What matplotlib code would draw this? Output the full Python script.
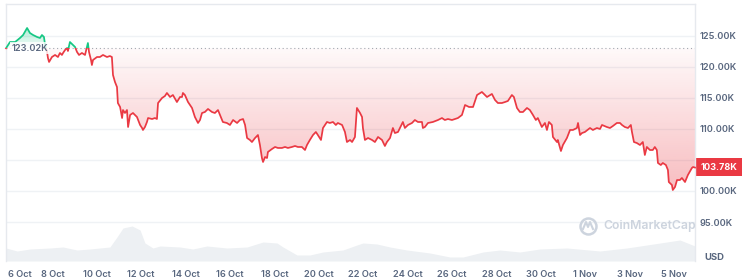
import matplotlib
matplotlib.use("Agg")
import matplotlib.pyplot as plt
import numpy as np
from matplotlib.patches import Rectangle, PathPatch
from matplotlib.path import Path
from matplotlib.lines import Line2D

plt.rcParams['font.family'] = ['Inter', 'DejaVu Sans']

# ---------------- data ----------------
# days after 6 Oct 00:00
days = [
    -0.09, 0.09, 0.32, 0.54, 0.68, 0.86, 0.99, 1.13, 1.31, 1.44,
    1.53, 1.62, 1.67, 1.76, 1.80, 1.85, 1.98, 2.12, 2.25, 2.34,
    2.43, 2.48, 2.57, 2.66, 2.70, 2.79, 2.93, 3.02, 3.11, 3.20,
    3.33, 3.47, 3.56, 3.60, 3.65, 3.74, 3.78, 3.83, 4.01, 4.14,
    4.28, 4.46, 4.59, 4.68, 4.73, 4.82, 4.91, 4.95, 5.05, 5.14,
    5.18, 5.27, 5.36, 5.41, 5.50, 5.63, 5.81, 5.95, 6.04, 6.08,
    6.17, 6.26, 6.31, 6.49, 6.62, 6.71, 6.76, 6.94, 7.07, 7.16,
    7.30, 7.43, 7.61, 7.75, 7.84, 7.88, 7.97, 8.11, 8.29, 8.42,
    8.56, 8.65, 8.74, 8.87, 9.01, 9.19, 9.32, 9.46, 9.55, 9.68,
    9.86, 10.00, 10.14, 10.32, 10.45, 10.59, 10.68, 10.77, 10.90, 10.99,
    11.13, 11.26, 11.35, 11.44, 11.49, 11.58, 11.67, 11.71, 11.89, 12.03,
    12.16, 12.34, 12.48, 12.61, 12.79, 12.93, 13.06, 13.24, 13.38, 13.47,
    13.60, 13.74, 13.87, 13.96, 14.10, 14.19, 14.37, 14.50, 14.64, 14.77,
    14.86, 15.05, 15.18, 15.27, 15.41, 15.50, 15.63, 15.72, 15.86, 15.95,
    15.99, 16.08, 16.22, 16.40, 16.53, 16.67, 16.85, 16.98, 17.07, 17.21,
    17.34, 17.43, 17.57, 17.79, 17.88, 18.02, 18.20, 18.33, 18.47, 18.65,
    18.69, 18.78, 18.92, 19.14, 19.37, 19.55, 19.68, 19.82, 20.00, 20.14,
    20.27, 20.45, 20.59, 20.77, 20.95, 21.13, 21.35, 21.58, 21.80, 21.94,
    22.07, 22.25, 22.39, 22.52, 22.70, 22.79, 22.93, 23.06, 23.20, 23.38,
    23.51, 23.65, 23.78, 23.87, 24.05, 24.19, 24.28, 24.37, 24.50, 24.55,
    24.73, 24.77, 24.91, 25.00, 25.18, 25.32, 25.45, 25.63, 25.68, 25.77,
    25.86, 25.99, 26.22, 26.35, 26.53, 26.67, 26.76, 26.98, 27.12, 27.25,
    27.43, 27.57, 27.66, 27.79, 27.93, 28.06, 28.11, 28.20, 28.33, 28.47,
    28.60, 28.69, 28.78, 28.92, 29.05, 29.14, 29.23, 29.28, 29.41, 29.50,
    29.64, 29.73, 29.77, 29.91, 29.95, 30.05, 30.14, 30.27, 30.36, 30.50,
    30.63, 30.81, 30.86, 30.95,
]
# price in thousands USD
price = [
    123.02, 124.03, 124.03, 124.68, 125.16, 126.29, 125.48, 125.16, 124.84, 124.68,
    125.16, 124.84, 123.55, 122.42, 121.45, 120.81, 121.61, 121.94, 121.61, 122.26,
    121.94, 122.26, 122.74, 123.06, 122.58, 124.03, 123.55, 123.23, 122.42, 121.94,
    122.26, 121.94, 123.23, 123.87, 122.42, 121.13, 120.32, 121.13, 121.61, 121.61,
    121.94, 121.61, 121.77, 121.61, 118.71, 117.58, 116.77, 114.19, 113.55, 111.77,
    113.06, 112.58, 113.06, 110.32, 112.26, 112.58, 111.94, 110.65, 110.16, 109.84,
    110.32, 111.13, 111.77, 111.61, 111.77, 111.61, 114.19, 115.00, 115.32, 115.81,
    115.16, 115.48, 114.35, 115.16, 115.16, 115.81, 115.48, 114.35, 113.39, 111.94,
    110.97, 111.45, 112.58, 112.74, 113.23, 112.74, 112.58, 113.06, 112.26, 111.13,
    110.97, 110.65, 111.45, 110.97, 111.45, 111.61, 110.65, 108.55, 108.23, 107.90,
    108.55, 109.03, 107.42, 105.32, 104.68, 105.48, 105.32, 106.29, 106.77, 107.10,
    106.94, 106.94, 107.10, 106.94, 107.10, 107.26, 107.10, 107.10, 106.61, 107.42,
    108.23, 109.03, 109.52, 109.03, 108.23, 110.16, 111.13, 110.97, 111.13, 110.65,
    110.97, 110.65, 109.52, 107.90, 108.23, 107.90, 108.71, 113.39, 112.58, 111.94,
    110.16, 108.23, 108.55, 108.23, 107.90, 108.71, 108.23, 107.26, 107.90, 108.55,
    110.16, 109.35, 109.52, 111.13, 110.16, 110.65, 110.97, 111.45, 111.13, 111.13,
    110.16, 110.32, 110.97, 111.13, 111.45, 111.77, 111.45, 111.61, 111.45, 111.61,
    111.77, 112.26, 113.87, 113.55, 113.55, 115.48, 115.97, 115.16, 115.65, 114.68,
    114.19, 114.19, 114.35, 114.52, 115.48, 115.16, 113.39, 112.74, 112.74, 113.39,
    113.06, 112.26, 111.45, 111.77, 110.32, 110.97, 109.84, 111.13, 110.65, 108.71,
    107.90, 108.23, 106.45, 107.42, 108.55, 109.84, 109.84, 110.16, 110.97, 109.03,
    109.35, 109.52, 110.16, 109.84, 110.16, 110.00, 110.65, 110.32, 110.16, 110.48,
    110.97, 110.97, 110.65, 110.32, 110.16, 110.65, 109.52, 107.90, 107.74, 107.42,
    107.90, 105.81, 107.10, 106.61, 106.61, 107.10, 106.61, 104.52, 104.19, 104.52,
    104.19, 103.39, 101.45, 100.97, 100.16, 100.65, 101.77, 101.77, 102.10, 101.45,
    102.58, 103.71, 103.87, 103.78,
]
vol_days = [
    -0.09, 0.41, 0.99, 1.89, 2.48, 3.11, 3.69, 4.59, 4.91, 5.18,
    5.59, 5.95, 6.17, 6.53, 6.85, 7.75, 8.33, 8.96, 9.86, 10.77,
    11.49, 12.12, 12.39, 13.02, 13.60, 14.19, 15.09, 15.72, 15.99, 16.62,
    17.21, 17.97, 19.01, 19.91, 20.50, 21.40, 22.16, 23.06, 23.96, 25.18,
    26.67, 27.88, 28.78, 29.68, 30.27, 30.95,
]
# volume (billions USD)
volume = [
    52, 40, 48, 52, 56, 44, 48, 56, 96, 132,
    140, 124, 72, 52, 60, 56, 48, 60, 52, 56,
    76, 72, 56, 24, 24, 36, 44, 64, 72, 68,
    56, 44, 32, 16, 16, 36, 44, 36, 48, 52,
    40, 52, 64, 76, 84, 60,
]
start_price = 123.02
last_price = 103.78
x_tick_days = [0, 2, 4, 6, 8, 10, 12, 14, 16, 18, 20, 22, 24, 26, 28, 30]
x_tick_labels = ['6 Oct', '8 Oct', '10 Oct', '12 Oct', '14 Oct', '16 Oct', '18 Oct',
                 '20 Oct', '22 Oct', '24 Oct', '26 Oct', '28 Oct', '30 Oct',
                 '1 Nov', '3 Nov', '5 Nov']
y_ticks = [95, 100, 105, 110, 115, 120, 125]

RED = '#ea3943'
GREEN = '#16c784'
LABEL = '#58667e'

W, H = 742, 279
def fx(px):
    return px / W
def fy(py):
    return 1 - py / H

fig = plt.figure(figsize=(W / 100, H / 100), dpi=100)
pos = [fx(6), fy(261), (695 - 6) / W, (261 - 4) / H]

# volume axes (background)
axv = fig.add_axes(pos, zorder=0)
axv.fill_between(vol_days, volume, 0, color='#edf0f3', lw=0)
axv.set_xlim(-0.09, 30.95)
axv.set_ylim(0, 1028)
axv.axis('off')

ax = fig.add_axes(pos, zorder=1)
ax.patch.set_visible(False)
XMIN, XMAX = -0.09, 30.95
YMIN, YMAX = 88.71, 130.16

d = np.array(days)
p = np.array(price)

# red gradient fill
pc = ax.fill_between(d, p, start_price, where=p <= start_price, interpolate=True,
                     facecolor='none', edgecolor='none')
rpath = Path.make_compound_path(*pc.get_paths())
rpatch = PathPatch(rpath, transform=ax.transData, facecolor='none', edgecolor='none')
ax.add_patch(rpatch)
n = 256
img = np.zeros((n, 1, 4))
rc = matplotlib.colors.to_rgb(RED)
img[..., 0], img[..., 1], img[..., 2] = rc
img[:, 0, 3] = np.linspace(0.34, 0.03, n)
im = ax.imshow(img, extent=[XMIN, XMAX, 99.8, start_price], origin='lower',
               aspect='auto', zorder=1, interpolation='bilinear')
im.set_clip_path(rpatch)

# green gradient fill
pcg = ax.fill_between(d, p, start_price, where=p >= start_price, interpolate=True,
                      facecolor='none', edgecolor='none')
gpath = Path.make_compound_path(*pcg.get_paths())
gpatch = PathPatch(gpath, transform=ax.transData, facecolor='none', edgecolor='none')
ax.add_patch(gpatch)
imgg = np.zeros((n, 1, 4))
gc = matplotlib.colors.to_rgb(GREEN)
imgg[..., 0], imgg[..., 1], imgg[..., 2] = gc
imgg[:, 0, 3] = np.linspace(0.05, 0.35, n)
img2 = ax.imshow(imgg, extent=[XMIN, XMAX, start_price, 126.4], origin='lower',
                 aspect='auto', zorder=1, interpolation='bilinear')
img2.set_clip_path(gpatch)

# lines
lr, = ax.plot(d, p, color=RED, lw=1.25, zorder=3, solid_joinstyle='round')
lg, = ax.plot(d, p, color=GREEN, lw=1.25, zorder=3, solid_joinstyle='round')
lr.set_clip_path(Rectangle((XMIN - 1, 80), 40, start_price - 80, transform=ax.transData))
lg.set_clip_path(Rectangle((XMIN - 1, start_price), 40, 20, transform=ax.transData))

ax.axhline(start_price, color='#a3a8b0', lw=0.8, ls=(0, (1, 2.5)), zorder=2)

ax.set_xlim(XMIN, XMAX)
ax.set_ylim(YMIN, YMAX)

ax.set_yticks(y_ticks)
# the 105K label sits behind the current-price tag in the reference
ax.set_yticklabels(['' if v == 105 else f'{v:.2f}K' for v in y_ticks])
ax.yaxis.tick_right()
ax.grid(axis='y', color='#eff2f5', lw=1)
ax.set_axisbelow(True)
ax.tick_params(axis='y', length=0, pad=3, labelsize=6.6, labelcolor=LABEL)
for t in ax.get_yticklabels():
    t.set_fontweight('semibold')

ax.set_xticks(x_tick_days)
ax.set_xticklabels(x_tick_labels)
ax.tick_params(axis='x', length=0, pad=6.5, labelsize=6.6, labelcolor=LABEL)
for t in ax.get_xticklabels():
    t.set_fontweight('semibold')
ax.get_xticklabels()[0].set_ha('left')

for s in ['top', 'left', 'right']:
    ax.spines[s].set_color('#e6e9ee')
    ax.spines[s].set_linewidth(1)
ax.spines['bottom'].set_visible(False)

# start label
ax.text(0.15, start_price, '123.02K', ha='left', va='center', fontsize=6.6,
        color=LABEL, fontweight='semibold', zorder=5,
        bbox=dict(boxstyle='square,pad=0.15', fc='white', ec='none', alpha=0.8))

# current price tag
fig.add_artist(Rectangle((fx(696), fy(176)), (742 - 696) / W, 18 / H,
                         transform=fig.transFigure, facecolor=RED, edgecolor='none'))
fig.text(fx(719), fy(167), '103.78K', ha='center', va='center', color='white',
         fontsize=6.6, fontweight='bold')

fig.text(fx(714), fy(257), 'USD', ha='center', va='center', color='#58667e',
         fontsize=6.8, fontweight='bold')

# watermark
WM = '#cdd4de'
fig.add_artist(Line2D([fx(588)], [fy(226)], marker='o', markersize=11.5,
                      markerfacecolor='none', markeredgecolor=WM, markeredgewidth=1.8,
                      transform=fig.transFigure))
fig.add_artist(Line2D([fx(583), fx(586), fx(588), fx(590), fx(593)],
                      [fy(229), fy(222), fy(227), fy(222), fy(229)],
                      color=WM, lw=1.5, transform=fig.transFigure))
fig.text(fx(603), fy(226), 'CoinMarketCap', ha='left', va='center', color=WM,
         fontsize=8.8, fontweight='semibold')

fig.savefig('out.png', dpi=100)
